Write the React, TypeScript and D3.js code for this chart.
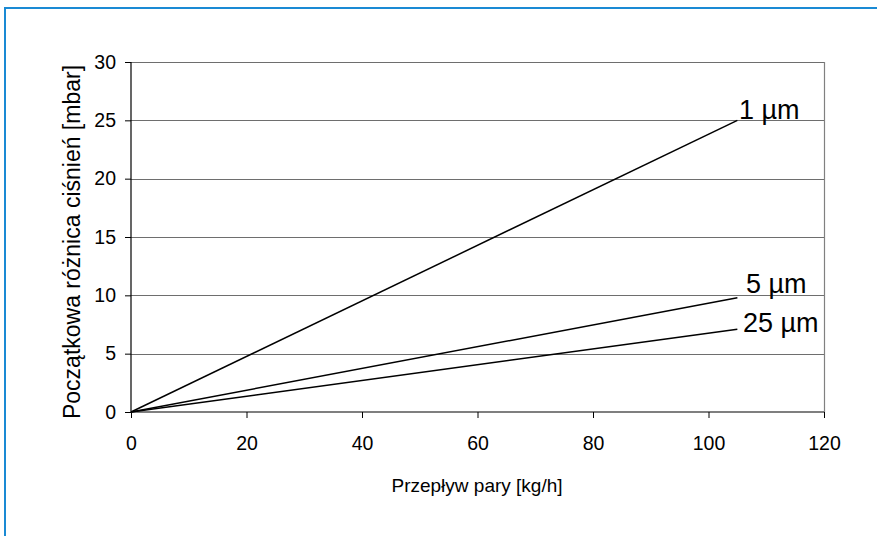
import { useEffect, useRef } from 'react';
import * as d3 from 'd3';

// flow [kg/h] vs initial pressure drop [mbar]
const flow = [0, 105];
const dp1 = [0, 25];
const dp5 = [0, 9.8];
const dp25 = [0, 7.1];
const seriesNames = ["1 µm", "5 µm", "25 µm"];
const xTicks = [0, 20, 40, 60, 80, 100, 120];
const yTicks = [0, 5, 10, 15, 20, 25, 30];

const W = 877, H = 536;

const App = () => {
  const svgRef = useRef(null);

  useEffect(() => {
    if (!svgRef.current) return;
    const svg = d3.select(svgRef.current);
    svg.selectAll("*").remove();
    const font = "Arial, 'Liberation Sans', sans-serif";

    const x = d3.scaleLinear().domain([0, 120]).range([131, 824]);
    const y = d3.scaleLinear().domain([0, 30]).range([412, 62]);

    // outer frame (blue, only top & left visible)
    svg.append("line").attr("x1", 4).attr("x2", W).attr("y1", 8).attr("y2", 8)
      .attr("stroke", "#1a8ad4").attr("stroke-width", 2);
    svg.append("line").attr("x1", 5).attr("x2", 5).attr("y1", 7).attr("y2", H)
      .attr("stroke", "#1a8ad4").attr("stroke-width", 2);

    // gridlines
    svg.append("g").selectAll("line")
      .data(yTicks.filter(d => d > 0))
      .enter().append("line")
      .attr("x1", x(0)).attr("x2", x(120))
      .attr("y1", d => Math.round(y(d)) + 0.5).attr("y2", d => Math.round(y(d)) + 0.5)
      .attr("stroke", "#6e6e6e").attr("stroke-width", 1);

    // right border of plot area
    svg.append("line").attr("x1", x(120) + 0.5).attr("x2", x(120) + 0.5)
      .attr("y1", y(30)).attr("y2", y(0))
      .attr("stroke", "#808080").attr("stroke-width", 1.2);

    // axes
    const yAxis = d3.axisLeft(y).tickValues(yTicks).tickSize(6).tickPadding(9);
    const gy = svg.append("g").attr("transform", `translate(${x(0)},0)`).call(yAxis);
    const xAxis = d3.axisBottom(x).tickValues(xTicks).tickSize(6).tickPadding(18);
    const gx = svg.append("g").attr("transform", `translate(0,${y(0)})`).call(xAxis);
    [gx, gy].forEach(g => {
      g.select(".domain").attr("stroke", "#000").attr("stroke-width", 1.2);
      g.selectAll(".tick line").attr("stroke", "#000");
      g.selectAll("text").attr("font-family", font).attr("font-size", 19.5).attr("fill", "#000");
    });
    gx.select(".domain").attr("d", `M${x(0)},0H${x(120)}`);
    gy.select(".domain").attr("d", `M0,${y(30)}V${y(0)}`);

    // series
    const data = [dp1, dp5, dp25];
    const line = d3.line<number>().x((_, i) => x(flow[i])).y(d => y(d));
    svg.append("g").selectAll("path")
      .data(data)
      .enter().append("path")
      .attr("d", d => line(d))
      .attr("fill", "none")
      .attr("stroke", "#000")
      .attr("stroke-width", 1.5);

    // series labels
    const labelOffsets = [[1.5, -1.5], [8.5, -4.5], [5.5, 3]];
    svg.append("g").selectAll("text")
      .data(data)
      .enter().append("text")
      .attr("x", (d, i) => x(flow[1]) + labelOffsets[i][0])
      .attr("y", (d, i) => y(d[1]) + labelOffsets[i][1])
      .attr("font-family", font).attr("font-size", 27)
      .text((d, i) => seriesNames[i]);

    // axis titles
    svg.append("text")
      .attr("x", 477).attr("y", 492)
      .attr("text-anchor", "middle")
      .attr("font-family", font).attr("font-size", 19)
      .text("Przepływ pary [kg/h]");
    svg.append("text")
      .attr("transform", `translate(80,242) rotate(-90)`)
      .attr("text-anchor", "middle")
      .attr("font-family", font).attr("font-size", 23)
      .text("Początkowa różnica ciśnień [mbar]");
  }, []);

  return (
    <svg ref={svgRef} width={W} height={H}
      style={{ position: 'absolute', left: 0, top: 0, background: '#fff' }}></svg>
  );
};

export default App;
